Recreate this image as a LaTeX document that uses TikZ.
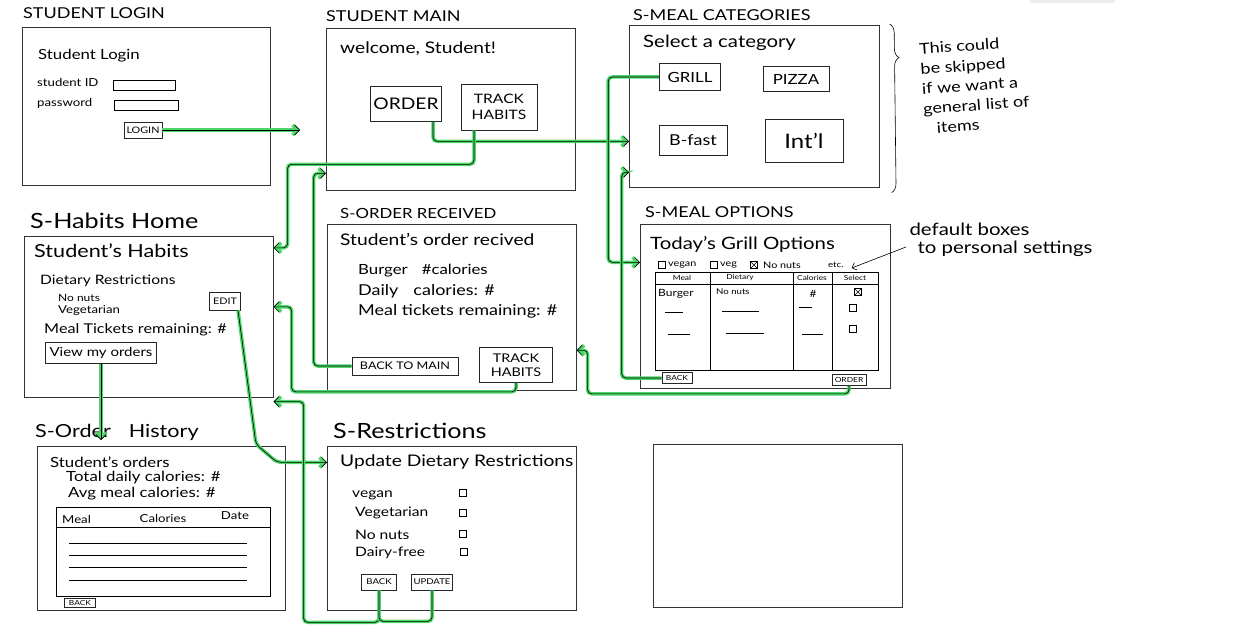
\documentclass[tikz,border=0pt]{standalone}
\usepackage{fontspec}
\setmainfont{Lato}[FakeStretch=1.2]
\usetikzlibrary{arrows.meta,positioning,decorations.pathreplacing}
\definecolor{flowgreen}{RGB}{76,214,104}
\newcommand\hsz[1]{\fontsize{#1}{#1}\selectfont}
\tikzset{
  frame/.style={draw=black!80, line width=0.6pt, anchor=north west, inner sep=0pt},
  btn/.style={draw=black!85, line width=0.6pt, inner sep=1.5pt, align=center},
  ttl/.style={anchor=west, inner sep=0pt},
  txt/.style={anchor=west, inner sep=0pt},
  ckbox/.style={draw, line width=0.5pt, minimum size=7pt, inner sep=0pt},
  flowline/.style={black, line width=0.6pt, rounded corners=4pt,
    preaction={draw=flowgreen, line width=3.5pt}},
  flow/.style={flowline, -{Straight Barb[length=5pt,width=10pt]}},
}
\begin{document}
\begin{tikzpicture}[x=1pt,y=-1pt]
\useasboundingbox (0,0) rectangle (1254,634);
\fill[gray!15] (1030,0) rectangle (1115,3);

% frames
\node[frame, minimum width=248pt, minimum height=158pt] (login) at (22,27) {};
\node[frame, minimum width=249pt, minimum height=162pt] (main) at (326,28) {};
\node[frame, minimum width=250pt, minimum height=162pt] (cats) at (629,25) {};
\node[frame, minimum width=249pt, minimum height=161pt] (habits) at (24,236) {};
\node[frame, minimum width=249pt, minimum height=166pt] (recv) at (327,224) {};
\node[frame, minimum width=250pt, minimum height=164pt] (opts) at (640,224) {};
\node[frame, minimum width=248pt, minimum height=164pt] (hist) at (37,446) {};
\node[frame, minimum width=249pt, minimum height=164pt] (restr) at (327,446) {};
\node[frame, minimum width=249pt, minimum height=163pt] (blank) at (653,444) {};

% titles
\node[ttl, font=\hsz{15}] (tlogin) at (23,13) {STUDENT LOGIN};
\node[ttl, font=\hsz{15}] (tmain) at (326,16) {STUDENT MAIN};
\node[ttl, font=\hsz{15}] (tcats) at (633,15) {S-MEAL CATEGORIES};
\node[ttl, font=\hsz{21}] (thabits) at (30,221) {S-Habits Home};
\node[ttl, font=\hsz{14}] (trecv) at (340,213) {S-ORDER RECEIVED};
\node[ttl, font=\hsz{15}] (topts) at (645,212) {S-MEAL OPTIONS};
\node[ttl, font=\hsz{18}] (thist) at (35,432) {S-Order\hspace{18pt}History};
\node[ttl, font=\hsz{21}] (trestr) at (333,431) {S-Restrictions};

% student login
\node[txt, font=\hsz{14}] (lhead) at (38,56) {Student Login};
\node[txt, font=\hsz{11}] (lid) at (37,82) {student ID};
\node[draw, anchor=north west, minimum width=62pt, minimum height=10pt, inner sep=0pt] (idbox) at (113,80) {};
\node[txt, font=\hsz{11}] (lpw) at (37,103) {password};
\node[draw, anchor=north west, minimum width=64pt, minimum height=10pt, inner sep=0pt] (pwbox) at (114,100) {};
\node[btn, font=\hsz{9}, minimum width=38pt, minimum height=16pt] (loginbtn) at (143,130) {LOGIN};

% student main
\node[txt, font=\hsz{16}] (mhead) at (340,49) {welcome, Student!};
\node[btn, font=\hsz{16}, minimum width=71pt, minimum height=35pt] (orderbtn) at (406,104) {ORDER};
\node[btn, font=\fontsize{13}{16}\selectfont, minimum width=76pt, minimum height=46pt] (trackbtn) at (499,107) {TRACK\\HABITS};

% meal categories
\node[txt, font=\hsz{17}] (chead) at (643,43) {Select a category};
\node[btn, font=\hsz{14}, minimum width=61pt, minimum height=27pt] (grill) at (690,77) {GRILL};
\node[btn, font=\hsz{14}, minimum width=66pt, minimum height=25pt] (pizza) at (796,79) {PIZZA};
\node[btn, font=\hsz{15}, minimum width=68pt, minimum height=30pt] (bfast) at (693,140) {B-fast};
\node[btn, font=\hsz{20}, minimum width=78pt, minimum height=43pt] (intl) at (804,141) {Int'l};
\draw[line width=0.6pt, decorate, decoration={brace, amplitude=9pt, aspect=0.2}]
  ([xshift=10pt,yshift=1pt]cats.north east) -- ([xshift=12pt,yshift=-5pt]cats.south east);
\node[anchor=north west, align=left, rotate=4, font=\fontsize{15}{20}\selectfont] (skipnote) at (915,40)
  {This could\\be skipped\\if we want a\\general list of\\\hspace{12pt}items};

% habits home
\node[txt, font=\hsz{18}] (hhead) at (34,251) {Student's Habits};
\node[txt, font=\hsz{13}] (hdiet) at (40,281) {Dietary Restrictions};
\node[txt, font=\hsz{10}] (hnuts) at (58,298) {No nuts};
\node[txt, font=\hsz{11}] (hveg) at (58,310) {Vegetarian};
\node[btn, font=\hsz{9}, minimum width=31pt, minimum height=18pt] (editbtn) at (225,301) {EDIT};
\node[txt, font=\hsz{13.5}] (htix) at (44,330) {Meal Tickets remaining: \#};
\node[btn, font=\hsz{12.5}, minimum width=111pt, minimum height=21pt] (viewbtn) at (101,353) {View my orders};

% order received
\node[txt, font=\hsz{16}] (rhead) at (340,239) {Student's order recived};
\node[txt, font=\hsz{14}] (rburger) at (358,271) {Burger\quad\#calories};
\node[txt, font=\hsz{15}] (rdaily) at (358,291) {Daily\quad calories: \#};
\node[txt, font=\hsz{15}] (rtix) at (358,311) {Meal tickets remaining: \#};
\node[btn, font=\hsz{10.5}, minimum width=106pt, minimum height=18pt] (backmain) at (405,366) {BACK TO MAIN};
\node[btn, font=\fontsize{12}{14}\selectfont, minimum width=73pt, minimum height=35pt] (track2) at (516,365) {TRACK\\HABITS};

% meal options
\node[txt, font=\hsz{17}] (ohead) at (650,244) {Today's Grill Options};
\node[ckbox] (cvegan) at (662,265) {};
\node[txt, font=\hsz{9}] (lvegan) at (668,265) {vegan};
\node[ckbox] (cveg) at (714,265) {};
\node[txt, font=\hsz{9}] (lveg) at (720,265) {veg};
\node[ckbox] (cnuts) at (754,265) {};
\draw (cnuts.north west) -- (cnuts.south east) (cnuts.north east) -- (cnuts.south west);
\node[txt, font=\hsz{9}] (lnuts) at (763,265) {No nuts};
\node[txt, font=\hsz{8}] (etc) at (828,265) {etc.};
\node[draw, line width=0.6pt, anchor=north west, minimum width=223pt, minimum height=98pt, inner sep=0pt] (otable) at (655,272) {};
\draw (otable.north west |- 0,284) -- (otable.north east |- 0,284);
\foreach \cx in {710,793,832} \draw (\cx,272) -- (\cx,370);
\node[font=\hsz{7}] (hmeal) at (682,278) {Meal};
\node[font=\hsz{7}] (hdietary) at (740,278) {Dietary};
\node[font=\hsz{7}] (hcal) at (812,278) {Calories};
\node[font=\hsz{7}] (hsel) at (855,278) {Select};
\node[txt, font=\hsz{10}] (oburger) at (658,294) {Burger};
\node[txt, font=\hsz{8}] (onuts) at (716,292) {No nuts};
\node[font=\hsz{10}] (ocal) at (813,294) {\#};
\node[ckbox] (osel) at (858,292) {};
\draw (osel.north west) -- (osel.south east) (osel.north east) -- (osel.south west);
\draw (665,312) -- (683,312) (722,311) -- (759,311) (799,307) -- (812,307);
\draw (668,334) -- (690,334) (726,333) -- (764,333) (802,334) -- (823,334);
\node[ckbox] (osel2) at (853,308) {};
\node[ckbox] (osel3) at (853,329) {};
\node[btn, font=\hsz{7}, minimum width=30pt, minimum height=11pt, inner sep=0.5pt] (optback) at (677,378) {BACK};
\node[btn, font=\hsz{7}, minimum width=34pt, minimum height=11pt, inner sep=0.5pt] (optorder) at (849,380) {ORDER};
\node[anchor=west, align=left, font=\fontsize{17}{18}\selectfont] (boxnote) at (906,240)
  {default boxes\\\hspace{8pt}to personal settings};
\draw[line width=0.6pt, -{Straight Barb[length=4pt,width=8pt]}] ([yshift=-7pt]boxnote.west) -- ([xshift=8pt,yshift=-3pt]etc.east);

% order history
\node[txt, font=\hsz{14}] (ihead) at (50,462) {Student's orders};
\node[txt, font=\hsz{14}] (itotal) at (66,478) {Total daily calories: \#};
\node[txt, font=\hsz{14}] (iavg) at (68,494) {Avg meal calories: \#};
\node[draw, line width=0.6pt, anchor=north west, minimum width=214pt, minimum height=89pt, inner sep=0pt] (itable) at (56,507) {};
\draw (itable.north west |- 0,527) -- (itable.north east |- 0,527);
\node[txt, font=\hsz{11}] (imeal) at (62,519) {Meal};
\node[font=\hsz{11}] (ical) at (163,518) {Calories};
\node[font=\hsz{11}] (idate) at (235,516) {Date};
\foreach \ry in {543,555,567,580} \draw (69,\ry) -- (247,\ry);
\node[btn, font=\hsz{7}, minimum width=31pt, minimum height=9pt, inner sep=0.5pt] (histback) at (80,603) {BACK};

% restrictions
\node[txt, font=\hsz{16}] (shead) at (340,462) {Update Dietary Restrictions};
\node[txt, font=\hsz{13}] (svegan) at (352,495) {vegan};
\node[txt, font=\hsz{13}] (sveg) at (355,513) {Vegetarian};
\node[txt, font=\hsz{13}] (snuts) at (355,535) {No nuts};
\node[txt, font=\hsz{13}] (sdairy) at (355,553) {Dairy-free};
\node[ckbox] (cb1) at (463,493) {};
\node[ckbox] (cb2) at (463,513) {};
\node[ckbox] (cb3) at (463,534) {};
\node[ckbox] (cb4) at (464,552) {};
\node[btn, font=\hsz{8}, minimum width=35pt, minimum height=16pt] (rback) at (379,582) {BACK};
\node[btn, font=\hsz{8}, minimum width=41pt, minimum height=16pt] (rupdate) at (432,582) {UPDATE};

% flows
\draw[flow] (loginbtn.east) -- ([xshift=-26pt]loginbtn.east -| main.west);
\draw[flow] ([xshift=27pt]orderbtn.south) |- ([yshift=-35pt]cats.west);
\draw[flow] ([xshift=-25pt]trackbtn.south) -- ++(0,34) -| ([xshift=14pt,yshift=69pt]habits.east) -- ([yshift=69pt]habits.east);
\draw[flow] (grill.west) -- ++(-51,0) |- ([yshift=44pt]opts.west);
\draw[flow] (optback.west) -- ++(-40,0) |- ([yshift=-66pt]cats.west);
\draw[flow] (optorder.south) -- ++(0,8) -| ([xshift=11pt,yshift=-43pt]recv.east) -- ([yshift=-43pt]recv.east);
\draw[flow] (backmain.west) -- ++(-38,0) |- ([yshift=-64pt]main.west);
\draw[flow] (track2.south) -- ++(0,9) -| ([xshift=18pt,yshift=10pt]habits.east) -- ([yshift=10pt]habits.east);
\draw[flow] ([xshift=13pt]editbtn.south) -- ([xshift=-71pt,yshift=84pt]restr.west) -- ([xshift=-50pt,yshift=66pt]restr.west) -- ([yshift=66pt]restr.west);
\draw[flow] (rback.south) -- ++(0,32) -| ([xshift=30pt,yshift=-4pt]habits.south east) -- ([yshift=-4pt]habits.south east);
\draw[flowline] (rupdate.south) -- ++(0,31) -| (rback.south);
\draw[flow] (viewbtn.south) -- ([yshift=6pt]viewbtn.south |- hist.north);
\end{tikzpicture}
\end{document}
